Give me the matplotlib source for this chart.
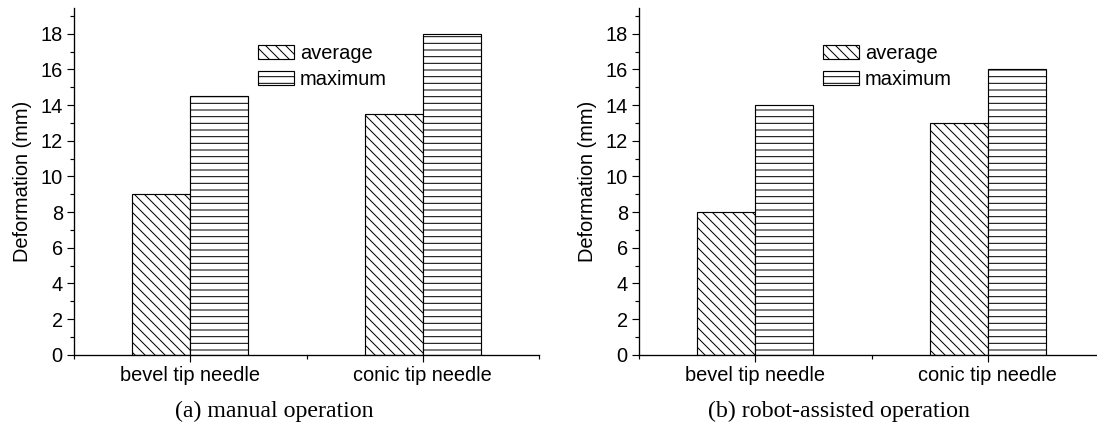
import numpy as np
import matplotlib
matplotlib.use("Agg")
import matplotlib.pyplot as plt
from matplotlib.ticker import MultipleLocator, FixedLocator

# values
categories = ['bevel tip needle', 'conic tip needle']
manual_avg = [9.0, 13.5]
manual_max = [14.5, 18.0]
robot_avg = [8.0, 13.0]
robot_max = [14.0, 16.0]
captions = ['(a) manual operation', '(b) robot-assisted operation']

plt.rcParams['font.family'] = ['Liberation Sans', 'DejaVu Sans']
plt.rcParams['hatch.linewidth'] = 0.6
plt.rcParams['hatch.color'] = 'black'

DPI = 120
fig = plt.figure(figsize=(1097 / DPI, 426 / DPI), dpi=DPI)

W, H = 1097.0, 426.0
def px_axes(x0, x1, ytop, ybot):
    return fig.add_axes([x0 / W, (H - ybot) / H, (x1 - x0) / W, (ybot - ytop) / H])

panels = [
    (px_axes(74, 539, 8, 354.7), manual_avg, manual_max, 274),
    (px_axes(639, 1104, 8, 354.7), robot_avg, robot_max, 839),
]

x = np.arange(1, len(categories) + 1)
bw = 0.25

for i, (ax, avg, mx, cap_x) in enumerate(panels):
    ax.bar(x - bw / 2, avg, bw, facecolor='white', edgecolor='black',
           linewidth=0.7, hatch='\\\\\\\\', label='average')
    ax.bar(x + bw / 2, mx, bw, facecolor='white', edgecolor='black',
           linewidth=0.7, hatch='---', label='maximum')

    ax.set_xlim(0.5, 2.5)
    ax.set_ylim(0, 19.45)
    for s in ('top', 'right'):
        ax.spines[s].set_visible(False)
    for s in ('left', 'bottom'):
        ax.spines[s].set_linewidth(0.8)
        ax.spines[s].set_clip_on(False)

    ax.set_xticks(x)
    ax.set_xticklabels(categories, fontsize=12)
    ax.xaxis.set_minor_locator(FixedLocator([0.5, 1.5, 2.5]))
    ax.yaxis.set_major_locator(MultipleLocator(2))
    ax.yaxis.set_minor_locator(MultipleLocator(1))
    ax.tick_params(axis='both', which='major', direction='out', length=4.2,
                   width=0.7, labelsize=12, pad=2.5)
    ax.tick_params(axis='both', which='minor', direction='out', length=2.4,
                   width=0.7)
    ax.set_ylabel('Deformation (mm)', fontsize=12, labelpad=5)

    ax.legend(loc='upper left', bbox_to_anchor=(0.396, 0.896), frameon=False,
              fontsize=12, handlelength=1.8, handleheight=0.7,
              handletextpad=0.3, labelspacing=0.35, borderpad=0,
              borderaxespad=0)

    fig.text(cap_x / W, (H - 417) / H, captions[i], ha='center',
             va='baseline', fontsize=14.3,
             family=['Liberation Serif', 'DejaVu Serif'])

fig.savefig('out.png', dpi=DPI)
